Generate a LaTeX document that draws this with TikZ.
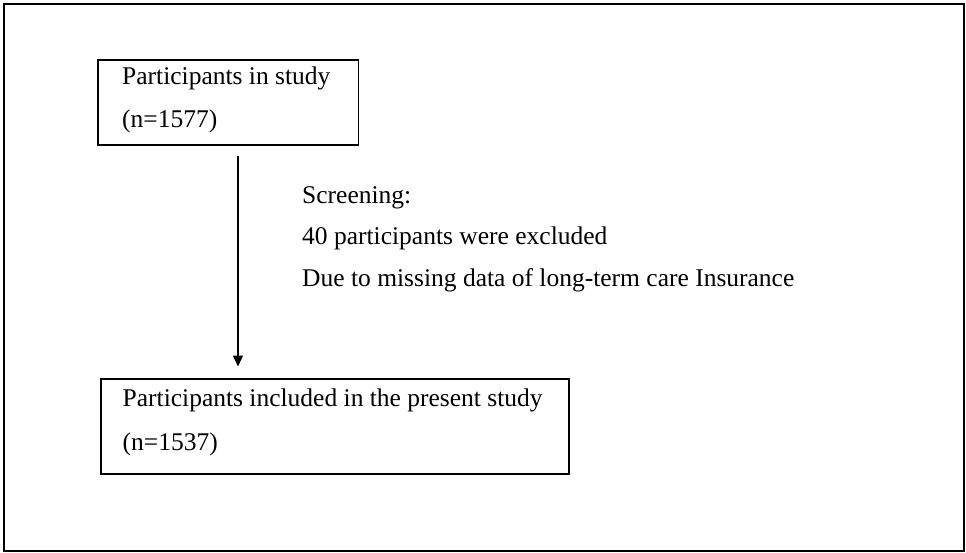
\documentclass[tikz,border=0pt]{standalone}
\usepackage{fontspec}
\setmainfont{Liberation Serif}
\usetikzlibrary{arrows.meta}
\begin{document}
\begin{tikzpicture}[x=1pt,y=-1pt,
  frame/.style={draw=black,line width=2.2pt},
  box/.style={draw=black,line width=1.6pt,rectangle,inner sep=0pt,anchor=north west},
  txt/.style={anchor=base west,inner sep=0pt,font=\fontsize{25.5}{30}\selectfont},
  arr/.style={line width=1.5pt,-{Triangle[length=11pt,width=10pt]}}]
\useasboundingbox (0,0) rectangle (966,553);
\node[frame,rectangle,inner sep=0pt,anchor=north west,minimum width=960pt,minimum height=547pt] (outer) at (3,3) {};
\node[box,minimum width=260.5pt,minimum height=85pt] (b1) at (97,59.5) {};
\node[box,line width=2pt,minimum width=468.5pt,minimum height=95.5pt] (b2) at (99.5,377.5) {};
\node[txt] (t1a) at (122,85) {Participants in study};
\node[txt] (t1b) at (122,128) {(n=1577)};
\node[txt] (t2a) at (122.5,406) {Participants included in the present study};
\node[txt] (t2b) at (122.5,450) {(n=1537)};
\node[txt] (s1) at (302,204) {Screening:};
\node[txt] (s2) at (302,245) {40 participants were excluded};
\node[txt] (s3) at (302,287) {Due to missing data of long-term care Insurance};
\coordinate (ax) at (238,0);
\draw[arr,shorten <=10pt,shorten >=11pt] (b1.south -| ax) -- (b2.north -| ax);
\end{tikzpicture}
\end{document}
